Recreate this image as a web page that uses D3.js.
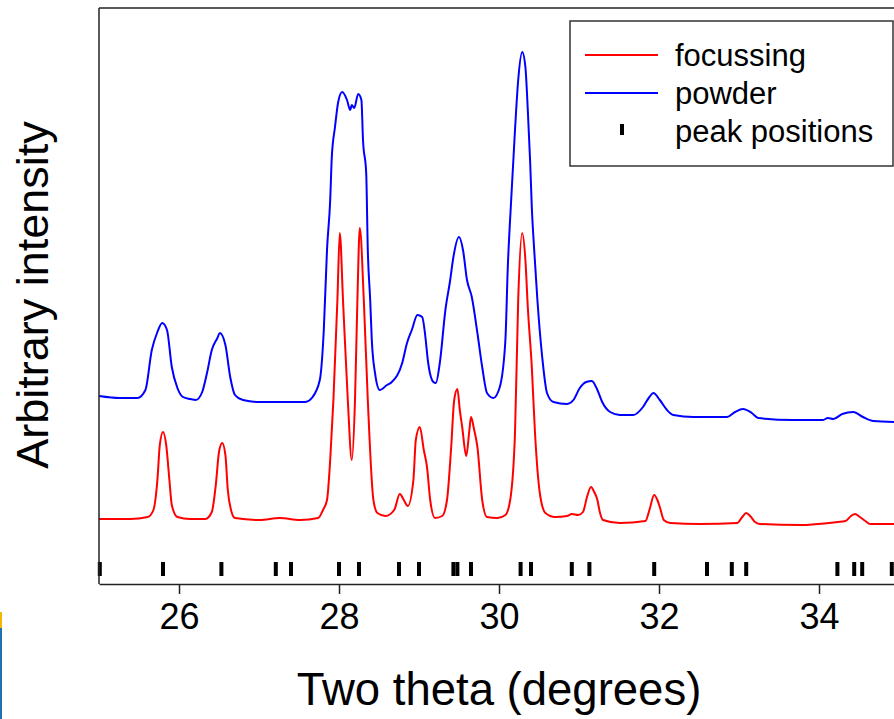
<!DOCTYPE html>
<html>
<head>
<meta charset="utf-8">
<script src="https://cdn.jsdelivr.net/npm/d3@7"></script>
<style>
  html, body { margin: 0; padding: 0; background: #fff; }
  svg { display: block; font-family: Arial, "Liberation Sans", Helvetica, sans-serif; }
</style>
</head>
<body>
<svg id="chart" width="894" height="719"></svg>
<script>
// X-ray diffraction patterns: [two theta (deg), intensity (arb. units)]
const focussing = [
  [25.00,65],[25.39,65],[25.61,67],[25.68,74],[25.73,104],[25.76,139],[25.80,152],
  [25.84,139],[25.88,104],[25.91,79],[25.98,67],[26.14,65],[26.33,65],[26.41,72],
  [26.46,99],[26.50,132],[26.54,141],[26.58,129],[26.61,94],[26.65,74],[26.70,66],
  [27.01,64],[27.26,66],[27.51,64],[27.74,66],[27.80,74],[27.85,84],[27.89,124],
  [27.93,184],[27.98,284],[28.01,351],[28.05,284],[28.11,184],[28.16,124],[28.20,184],
  [28.23,284],[28.26,356],[28.31,284],[28.36,184],[28.43,84],[28.48,71],[28.58,68],
  [28.69,74],[28.76,90],[28.81,84],[28.86,78],[28.93,104],[28.96,144],[29.01,157],
  [29.06,134],[29.10,117],[29.14,84],[29.20,66],[29.29,68],[29.35,84],[29.40,134],
  [29.44,184],[29.48,195],[29.51,174],[29.54,157],[29.59,128],[29.63,154],[29.65,167],
  [29.69,154],[29.73,137],[29.79,84],[29.85,67],[29.98,66],[30.08,69],[30.14,84],
  [30.20,151],[30.24,284],[30.29,351],[30.33,324],[30.36,277],[30.41,217],[30.45,151],
  [30.51,91],[30.58,71],[30.70,67],[30.85,68],[30.91,70],[30.99,69],[31.05,72],
  [31.10,87],[31.15,97],[31.19,92],[31.23,84],[31.26,72],[31.30,64],[31.51,61],
  [31.83,63],[31.88,74],[31.94,89],[31.98,84],[32.01,77],[32.06,64],[32.14,61],
  [32.51,60],[32.98,61],[33.04,67],[33.09,71],[33.14,68],[33.20,62],[33.26,60],
  [33.76,59],[34.23,62],[34.33,63],[34.40,68],[34.45,70],[34.51,67],[34.58,63],
  [34.64,60],[34.94,60]
];

const powder = [
  [25.00,188],[25.26,186],[25.48,186],[25.58,194],[25.66,234],[25.73,252],[25.79,261],
  [25.85,254],[25.91,217],[25.98,196],[26.05,187],[26.14,185],[26.21,184],[26.29,192],
  [26.35,211],[26.41,234],[26.48,246],[26.51,251],[26.58,239],[26.64,207],[26.70,189],
  [26.80,184],[27.01,182],[27.26,182],[27.58,182],[27.66,186],[27.76,204],[27.81,254],
  [27.85,334],[27.89,384],[27.91,427],[27.95,457],[27.99,482],[28.04,492],[28.10,484],
  [28.14,474],[28.16,479],[28.19,476],[28.24,490],[28.28,484],[28.30,444],[28.34,411],
  [28.36,334],[28.39,284],[28.41,244],[28.45,211],[28.51,194],[28.60,199],[28.66,202],
  [28.79,221],[28.85,241],[28.91,254],[28.98,269],[29.04,267],[29.08,247],[29.11,224],
  [29.18,202],[29.21,201],[29.26,221],[29.33,274],[29.39,304],[29.43,327],[29.50,347],
  [29.55,334],[29.60,304],[29.66,287],[29.73,251],[29.79,217],[29.85,191],[29.93,186],
  [30.01,197],[30.08,244],[30.11,317],[30.15,381],[30.20,454],[30.24,504],[30.29,532],
  [30.33,517],[30.36,474],[30.39,421],[30.41,377],[30.44,334],[30.48,284],[30.54,227],
  [30.60,191],[30.68,182],[30.85,180],[30.93,184],[31.01,196],[31.09,202],[31.16,203],
  [31.23,194],[31.29,182],[31.39,172],[31.51,169],[31.68,169],[31.80,177],[31.88,187],
  [31.93,191],[32.01,184],[32.10,174],[32.18,169],[32.43,167],[32.85,167],[32.95,172],
  [33.05,175],[33.16,171],[33.24,166],[33.68,164],[34.05,164],[34.11,166],[34.18,165],
  [34.29,170],[34.43,172],[34.55,167],[34.68,163],[34.94,162]
];

// Calculated reflection positions (two theta, deg)
const peakPositions = [
  25.01, 25.80, 26.53, 27.21, 27.40, 28.00, 28.25, 28.75, 29.00, 29.43, 29.48,
  29.65, 30.27, 30.40, 30.91, 31.13, 31.94, 32.60, 32.91, 33.09, 34.23, 34.44,
  34.54, 34.91
];

const xTicks = [26, 28, 30, 32, 34];

const legendItems = [
  { label: "focussing", kind: "line", color: "#ff0000" },
  { label: "powder", kind: "line", color: "#0000ff" },
  { label: "peak positions", kind: "tick", color: "#000000" }
];

const svg = d3.select("#chart");

const plot = { left: 99, right: 899, top: 8, bottom: 584 };

const x = d3.scaleLinear().domain([25, 35]).range([plot.left, plot.right]);
const y = d3.scaleLinear().domain([0, 576]).range([plot.bottom, plot.top]);

const line = d3.line()
  .x(d => x(d[0]))
  .y(d => y(d[1]))
  .curve(d3.curveMonotoneX);

// Patterns
svg.append("path")
  .datum(powder)
  .attr("fill", "none")
  .attr("stroke", "#0000ff")
  .attr("stroke-width", 2)
  .attr("stroke-linejoin", "round")
  .attr("d", line);

svg.append("path")
  .datum(focussing)
  .attr("fill", "none")
  .attr("stroke", "#ff0000")
  .attr("stroke-width", 2)
  .attr("stroke-linejoin", "round")
  .attr("d", line);

// Reflection markers
svg.append("g")
  .selectAll("rect")
  .data(peakPositions)
  .join("rect")
  .attr("x", d => x(d) - 2)
  .attr("y", 562)
  .attr("width", 4)
  .attr("height", 14)
  .attr("fill", "#000");

// Frame: top and left edges
svg.append("line")
  .attr("x1", plot.left).attr("x2", plot.right)
  .attr("y1", plot.top).attr("y2", plot.top)
  .attr("stroke", "#222").attr("stroke-width", 1.5);
svg.append("line")
  .attr("x1", plot.left).attr("x2", plot.left)
  .attr("y1", plot.top).attr("y2", plot.bottom)
  .attr("stroke", "#222").attr("stroke-width", 1.5);

// X axis
const xAxis = svg.append("g")
  .attr("transform", `translate(0,${plot.bottom})`)
  .call(d3.axisBottom(x).tickValues(xTicks).tickSize(10).tickPadding(9).tickSizeOuter(0));
xAxis.select(".domain").attr("stroke", "#222").attr("stroke-width", 1.5);
xAxis.selectAll(".tick line").attr("stroke", "#222").attr("stroke-width", 1.5);
xAxis.selectAll(".tick text")
  .attr("fill", "#000")
  .style("font-size", "36px")
  .style("font-family", "Arial, 'Liberation Sans', sans-serif");

// Axis titles
svg.append("text")
  .attr("x", (plot.left + plot.right) / 2)
  .attr("y", 705)
  .attr("text-anchor", "middle")
  .style("font-size", "45.5px")
  .text("Two theta (degrees)");

svg.append("text")
  .attr("transform", "translate(48,295) rotate(-90)")
  .attr("text-anchor", "middle")
  .style("font-size", "45px")
  .text("Arbitrary intensity");

// Legend
const legend = svg.append("g").attr("transform", "translate(570,21)");
legend.append("rect")
  .attr("width", 323).attr("height", 145)
  .attr("fill", "#fff")
  .attr("stroke", "#333").attr("stroke-width", 1.5);

const rows = legend.selectAll("g.row")
  .data(legendItems)
  .join("g")
  .attr("class", "row")
  .attr("transform", (d, i) => `translate(0,${34 + i * 38})`);

rows.filter(d => d.kind === "line").append("line")
  .attr("x1", 15).attr("x2", 88)
  .attr("y1", 0).attr("y2", 0)
  .attr("stroke", d => d.color).attr("stroke-width", 2);

rows.filter(d => d.kind === "tick").append("rect")
  .attr("x", 50).attr("y", -7)
  .attr("width", 4).attr("height", 11)
  .attr("fill", d => d.color);

rows.append("text")
  .attr("x", 105)
  .attr("y", 11)
  .style("font-size", "31px")
  .text(d => d.label);

// Edge strip at lower left
svg.append("rect").attr("x", 0).attr("y", 612).attr("width", 2).attr("height", 16).attr("fill", "#f2b705");
svg.append("rect").attr("x", 0).attr("y", 628).attr("width", 2).attr("height", 91).attr("fill", "#1f6fb4");
</script>
</body>
</html>
